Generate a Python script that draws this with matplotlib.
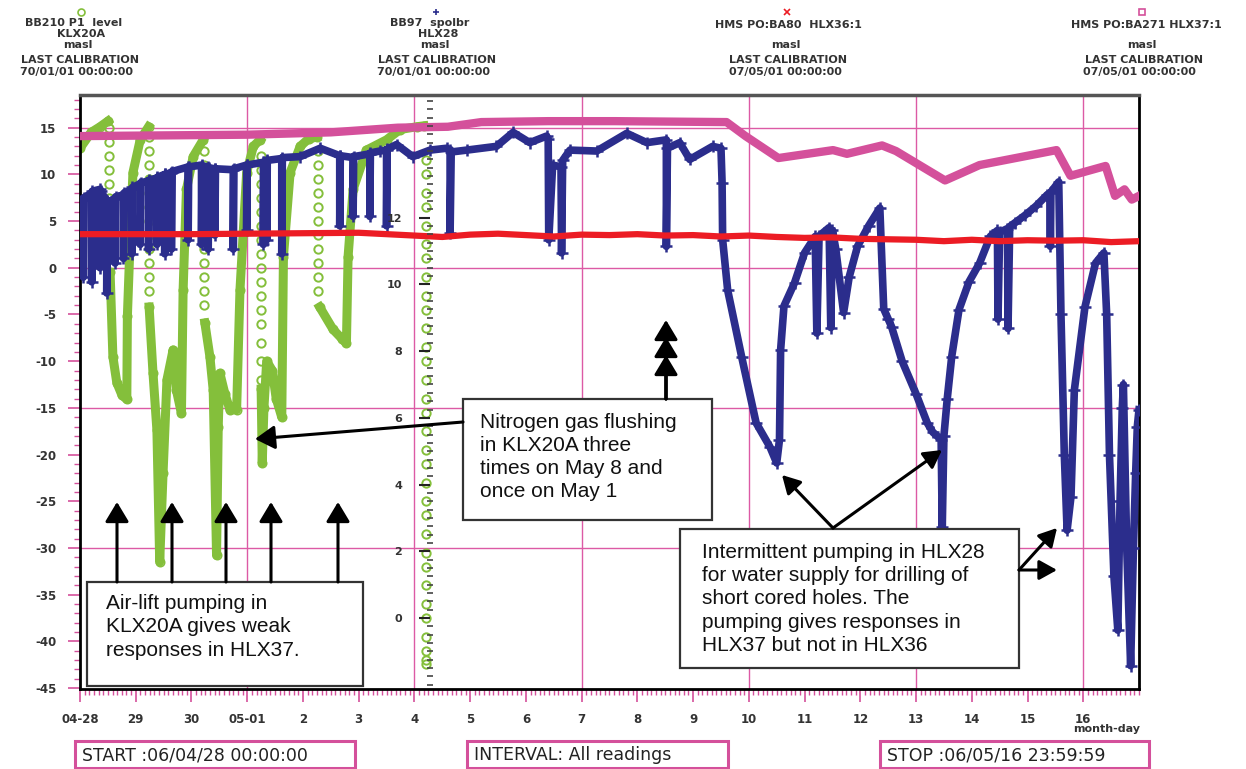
import matplotlib
matplotlib.use('Agg')
import matplotlib.pyplot as plt
import numpy as np
from matplotlib.lines import Line2D
from matplotlib.patches import Rectangle, FancyArrowPatch
from matplotlib.ticker import MultipleLocator

plt.rcParams['font.family'] = 'DejaVu Sans'
plt.rcParams['axes.unicode_minus'] = False

W, H = 1246, 769
GREEN = '#84bf3b'
BLUE = '#2b2d8c'
RED = '#ec1c24'
PINK = '#d4509b'
GRID = '#dc5aa5'
nan = np.nan

# ---- data (x = days since 04-28 00:00, y = masl) ----
x_labels = ['04-28', '29', '30', '05-01', '2', '3', '4', '5', '6', '7', '8',
            '9', '10', '11', '12', '13', '14', '15', '16']

# HLX37 (pink squares)
pink_day = [0.0, 3.0, 4.5, 5.7, 6.6, 7.2, 8.4, 9.6, 11.6, 11.94, 12.53, 13.51,
            13.76, 14.39, 14.64, 15.52, 16.14, 17.52, 17.77, 18.40, 18.57, 18.74,
            18.87, 19.0]
pink_lvl = [14.1, 14.25, 14.5, 15.0, 15.1, 15.6, 15.7, 15.7, 15.6, 14.1, 11.75, 12.6,
            12.2, 13.1, 12.5, 9.35, 11.0, 12.6, 9.85, 10.9, 7.7, 8.4,
            7.3, 7.7]

# HLX36 (red crosses)
red_day = [0, 1, 2, 3, 4, 5, 5.5, 6, 6.5, 7, 7.5, 8, 8.5, 9, 9.5, 10, 10.5, 11,
           11.5, 12, 12.5, 13, 13.5, 14, 14.5, 15, 15.5, 16, 16.5, 17, 17.5, 18,
           18.5, 19]
red_lvl = [3.6, 3.6, 3.6, 3.65, 3.7, 3.75, 3.6, 3.45, 3.3, 3.55, 3.65, 3.5, 3.35,
           3.55, 3.5, 3.6, 3.45, 3.5, 3.35, 3.45, 3.3, 3.2, 3.25, 3.1, 3.05, 3.0,
           2.85, 3.0, 2.85, 2.95, 2.9, 2.95, 2.75, 2.85]

# HLX28 (blue plus)
blue_day = [0.00,
            0.06, 0.06, 0.07, 0.21, 0.21, 0.22, 0.36, 0.36, 0.37,
            0.48, 0.48, 0.49, 0.63, 0.63, 0.64, 0.78, 0.78, 0.79,
            0.93, 0.93, 0.94, 1.08, 1.08, 1.09, 1.23, 1.23, 1.24,
            1.38, 1.38, 1.39, 1.52, 1.52, 1.53, 1.64, 1.64, 1.65,
            1.94, 1.94, 1.95, 2.18, 2.18, 2.19, 2.30, 2.30, 2.31,
            2.42, 2.42, 2.43, 2.75, 2.75, 2.76, 2.99, 2.99, 3.00,
            3.29, 3.29, 3.30, 3.35, 3.35, 3.36, 3.62, 3.62, 3.63,
            3.95, 4.31, 4.66, 4.66, 4.67, 4.90, 4.90, 4.91,
            5.20, 5.20, 5.21, 5.38, 5.50, 5.50, 5.51,
            5.68, 5.97, 6.28, 6.58, 6.64, 6.64, 6.66,
            6.94, 7.47, 7.77, 8.07, 8.37, 8.40, 8.41, 8.48,
            8.63, 8.64, 8.66, 8.79, 9.27, 9.81, 10.17, 10.52, 10.52, 10.54,
            10.76, 10.94, 11.35, 11.50, 11.52, 11.53, 11.62, 11.87, 12.13,
            12.38, 12.50, 12.55, 12.57, 12.63, 12.82, 13.00, 13.19,
            13.22, 13.26, 13.44, 13.47, 13.50, 13.56, 13.70, 13.80, 13.95,
            14.15, 14.35, 14.42, 14.50, 14.56, 14.75, 15.00, 15.20, 15.30,
            15.45, 15.47, 15.50, 15.56, 15.64, 15.77, 15.95, 16.14, 16.33,
            16.46, 16.47, 16.50, 16.64, 16.65, 16.68, 16.77, 16.95, 17.15,
            17.35, 17.40, 17.41, 17.42, 17.56, 17.60, 17.66, 17.71, 17.78,
            17.84, 18.03, 18.22, 18.37, 18.42, 18.47, 18.55, 18.62, 18.66,
            18.70, 18.72, 18.78, 18.85, 18.90, 18.94, 18.97, 19.0]
blue_lvl = [7.1,
            7.3, -1.0, 7.5, 8.0, -1.5, 8.2, 8.4, 0.0, 8.2,
            7.2, -2.7, 7.0, 7.4, 0.5, 7.6, 7.8, 1.0, 8.0,
            8.4, 1.5, 8.6, 9.0, 2.5, 9.1, 9.3, 2.0, 9.4,
            9.6, 2.5, 9.7, 10.0, 1.5, 10.0, 10.2, 2.0, 10.3,
            10.8, 3.0, 10.8, 11.0, 2.5, 10.9, 10.8, 2.0, 10.7,
            10.6, 3.5, 10.6, 10.5, 2.0, 10.6, 11.0, 4.0, 11.0,
            11.3, 2.5, 11.3, 11.4, 3.0, 11.5, 11.7, 1.5, 11.8,
            11.9, 12.8, 12.0, 4.5, 12.0, 11.8, 5.5, 11.9,
            12.2, 5.5, 12.3, 12.5, 12.6, 4.5, 12.7,
            13.2, 11.9, 12.6, 12.8, 12.6, 3.7, 12.4,
            12.6, 13.0, 14.5, 13.4, 14.1, 13.8, 3.0, 11.0,
            10.8, 1.6, 11.5, 12.6, 12.5, 14.4, 13.4, 13.7, 2.3, 12.8,
            13.4, 11.6, 13.0, 12.8, 9.1, 3.0, -2.4, -9.5, -16.6,
            -19.2, -20.9, -18.4, -8.8, -4.1, -1.6, 1.6, 3.35,
            -7.0, 3.4, 4.3, -6.4, 4.0, 2.0, -4.8, -1.0, 2.3,
            4.5, 6.4, -4.4, -5.5, -6.3, -10.0, -13.5, -16.6, -17.6,
            -18.4, -27.8, -18.0, -14.0, -9.5, -4.5, -1.5, 0.5, 3.35,
            4.0, -5.5, 3.8, 4.2, -6.5, 4.4, 4.8, 5.6, 6.6,
            7.8, 8.0, 2.3, 8.1, 9.2, -5.0, -20.0, -28.1, -24.5,
            -13.1, -4.2, 0.5, 1.6, -5.0, -20.0, -33.0, -38.8, -25.0,
            -15.0, -12.5, -30.0, -42.6, -30.0, -22.0, -17.0, -15.2]

# KLX20A (green circles), dense trace; nan = gap where readings are sparse
green_day = [0.0, 0.2, 0.36, 0.5, nan,
             0.54, 0.59, 0.66, 0.75, 0.84, 0.85, 0.90, 0.95, 1.08, 1.23, nan,
             1.24, 1.31, 1.38, 1.43, 1.49, 1.56, 1.67, 1.73, 1.82, 1.85, 1.91,
             2.03, 2.21, nan,
             2.24, 2.33, 2.39, 2.45, 2.48, 2.51, 2.60, 2.69, 2.81, 2.87, 2.99,
             3.11, 3.23, nan,
             3.25, 3.27, 3.30, 3.35, 3.45, 3.52, 3.62, 3.65, 3.77, 3.95, 4.10,
             4.25, nan,
             4.30, 4.54, 4.70, 4.78, 4.81, 4.90, 5.14, 5.50, 5.74, 6.04, 6.17]
green_lvl = [12.8, 14.5, 15.1, 15.7, nan,
             -0.5, -9.5, -12.3, -13.6, -14.1, -5.2, 3.0, 10.2, 13.7, 15.1, nan,
             -4.2, -11.3, -17.4, -31.5, -22.0, -12.0, -8.8, -13.1, -15.6, -2.4, 8.4,
             11.9, 13.7, nan,
             -5.9, -9.5, -13.1, -30.8, -17.0, -11.3, -13.5, -15.2, -15.2, -2.4, 10.2,
             13.0, 13.7, nan,
             -13.0, -20.9, -15.0, -10.0, -11.0, -14.0, -16.0, 1.2, 10.2, 13.0, 13.8,
             14.0, nan,
             -4.2, -6.6, -7.6, -8.1, 1.2, 8.4, 12.6, 13.7, 14.8, 15.1, 15.2]

# KLX20A sparse readings during fast drops
green_drop_day = [0.52, 1.245, 2.225, 3.245, 4.275, 6.21]
green_drop_lvls = [
    [15.0, 13.5, 12.0, 10.5, 9.0, 7.5, 6.0, 4.5, 3.0, 1.5],
    [14.0, 12.5, 11.0, 9.5, 8.0, 6.5, 5.0, 3.5, 2.0, 0.5, -1.0, -2.5],
    [12.5, 11.0, 9.5, 8.0, 6.5, 5.0, 3.5, 2.0, 0.5, -1.0, -2.5, -4.0],
    [12.0, 10.5, 9.0, 7.5, 6.0, 4.5, 3.0, 1.5, 0.0, -1.5, -3.0, -4.5, -6.0,
     -8.0, -10.0, -12.0],
    [12.5, 11.0, 9.5, 8.0, 6.5, 5.0, 3.5, 2.0, 0.5, -1.0, -2.5],
    [11.5, 10.0, 8.0, 6.5, 4.5, 2.5, 1.0, -1.0, -3.0, -4.5, -6.5, -8.5, -10.0,
     -12.0, -14.0, -15.5, -17.5, -19.5, -21.0, -23.0, -25.0, -26.5, -28.5,
     -30.5, -32.0, -34.0, -36.0, -37.5, -39.5, -41.0, -42.0, -42.4],
]

# header / footer texts
sensor_names = ['BB210 P1  level', 'BB97  spolbr', 'HMS PO:BA80  HLX36:1',
                'HMS PO:BA271 HLX37:1']
boreholes = ['KLX20A', 'HLX28', '', '']
calib_dates = ['70/01/01 00:00:00', '70/01/01 00:00:00', '07/05/01 00:00:00',
               '07/05/01 00:00:00']
legend_marks = ['o', '+', 'x', 's']
legend_colors = [GREEN, BLUE, RED, PINK]
footer_texts = ['START :06/04/28 00:00:00', 'INTERVAL: All readings',
                'STOP :06/05/16 23:59:59']
note_airlift = 'Air-lift pumping in\nKLX20A gives weak\nresponses in HLX37.'
note_nitrogen = 'Nitrogen gas flushing\nin KLX20A three\ntimes on May 8 and\nonce on May 1'
note_pumping = ('Intermittent pumping in HLX28\nfor water supply for drilling of\n'
                'short cored holes. The\npumping gives responses in\n'
                'HLX37 but not in HLX36')

# ---- figure ----
fig = plt.figure(figsize=(W / 100, H / 100), dpi=100)


def fp(x, y):
    return (x / W, 1 - y / H)


ax = fig.add_axes([80 / W, 1 - 689 / H, 1059 / W, 594 / H])
ax.set_xlim(0, 19)
ax.set_ylim(-45.1, 18.5)

for d in np.arange(3, 19, 3):
    ax.axvline(d, color=GRID, lw=1, zorder=1)
for v in np.arange(-30, 16, 15):
    ax.axhline(v, color=GRID, lw=1, zorder=1)

ax.plot(green_day, green_lvl, color=GREEN, lw=6.5, marker='o', ms=6, mfc='none',
        mec=GREEN, mew=1.2, zorder=2)
for d, lv in zip(green_drop_day, green_drop_lvls):
    ax.plot([d] * len(lv), lv, ls='none', marker='o', ms=6, mfc='none',
            mec=GREEN, mew=1.4, zorder=2)
ax.plot(blue_day, blue_lvl, color=BLUE, lw=5.5, marker='+', ms=9, mew=1.8, zorder=3)
ax.plot(pink_day, pink_lvl, color=PINK, lw=6, zorder=4)
ax.plot(red_day, red_lvl, color=RED, lw=4.5, zorder=5)

for s in ['left', 'bottom', 'right']:
    ax.spines[s].set_color('black')
    ax.spines[s].set_linewidth(2)
ax.spines['top'].set_color('#555555')
ax.spines['top'].set_linewidth(2.5)

ax.set_xticks(range(19), labels=x_labels)
ax.xaxis.set_minor_locator(MultipleLocator(1 / 12))
ax.set_yticks(np.arange(-45, 16, 5))
ax.yaxis.set_minor_locator(MultipleLocator(1))
ax.tick_params(which='major', length=9, width=1.2, color=PINK, pad=8,
               labelsize=8.5)
ax.tick_params(which='minor', length=4, width=1, color=PINK)
for lab in ax.get_xticklabels() + ax.get_yticklabels():
    lab.set_fontweight('bold')
    lab.set_color('#333333')

# inner scale
ax2 = ax.twinx()
ax2.set_ylim(-2.13, 15.68)
for s in ax2.spines.values():
    s.set_visible(False)
ax2.yaxis.tick_left()
ax2.spines['left'].set_position(('data', 6.28))
ax2.set_yticks(range(0, 13, 2))
ax2.yaxis.set_minor_locator(MultipleLocator(0.25))
ax2.tick_params(axis='y', which='major', length=8, width=1.5, color='#222222',
                direction='out', pad=12, labelsize=8)
ax2.tick_params(axis='y', which='minor', length=5, width=1.2, color='#444444',
                direction='inout')
for lab in ax2.get_yticklabels():
    lab.set_fontweight('bold')
    lab.set_color('#333333')

# header
hdr = dict(fontsize=8, fontweight='bold', color='#333333', ha='center',
           va='center')
name_x = [74, 430, 788, 1146]
name_y = [23, 23, 25, 25]
hole_x = [81, 438]
masl_x = [78, 435, 786, 1142]
masl_y = [45, 45, 45, 45]
cal_x = [80, 437, 788, 1144]
date_x = [77, 433, 785, 1139]
mark_x = [81, 436, 787, 1142]
for i in range(4):
    fig.add_artist(Line2D([mark_x[i] / W], [1 - 11.5 / H], transform=fig.transFigure,
                          marker=legend_marks[i], ms=5, mfc='none',
                          mec=legend_colors[i], mew=1.2, ls='none'))
    fig.text(*fp(name_x[i], name_y[i]), sensor_names[i], **hdr)
    if boreholes[i]:
        fig.text(*fp(hole_x[i], 34), boreholes[i], **hdr)
    fig.text(*fp(masl_x[i], masl_y[i]), 'masl', **hdr)
    fig.text(*fp(cal_x[i], 60), 'LAST CALIBRATION', **hdr)
    fig.text(*fp(date_x[i], 72), calib_dates[i], **hdr)

fig.text(*fp(1107, 729), 'month-day', **hdr)

# footer boxes
foot_x0 = [75, 467, 880]
foot_x1 = [355, 728, 1149]
for x0, x1, t in zip(foot_x0, foot_x1, footer_texts):
    fig.add_artist(Rectangle(fp(x0, 768), (x1 - x0) / W, 27 / H,
                             transform=fig.transFigure, fill=False, ec=PINK,
                             lw=2.2))
    fig.text(*fp(x0 + 7, 755), t, fontsize=12.5, color='#222222', ha='left',
             va='center')

# annotation boxes
note_font = dict(family='Liberation Sans', fontsize=15, color='#111111',
                 ha='left', va='center', linespacing=1.27, zorder=6)
boxes = [(87, 582, 363, 686), (463, 399, 712, 520), (680, 529, 1019, 668)]
for x0, y0, x1, y1 in boxes:
    fig.add_artist(Rectangle(fp(x0, y1), (x1 - x0) / W, (y1 - y0) / H,
                             transform=fig.transFigure, fc='white',
                             ec='#333333', lw=1.6, zorder=5))
fig.text(*fp(106, 627), note_airlift, **note_font)
fig.text(*fp(480, 457), note_nitrogen, **note_font)
fig.text(*fp(702, 599), note_pumping, **note_font)


def arrow(x0, y0, x1, y1, hl=1.0, hw=0.6):
    fig.add_artist(FancyArrowPatch(fp(x0, y0), fp(x1, y1), transform=fig.transFigure,
                                   arrowstyle=f'-|>,head_length={hl},head_width={hw}',
                                   mutation_scale=12, lw=2.2, color='black',
                                   shrinkA=0, shrinkB=0, zorder=7))


for x in [117, 172, 226, 271, 338]:
    arrow(x, 582, x, 502)
arrow(463, 422, 255, 439)
for y in [320, 337, 355]:
    arrow(666, 399, 666, y)
arrow(833, 528, 782, 475, 0.9, 0.5)
arrow(833, 528, 942, 450, 0.9, 0.5)
arrow(1019, 570, 1057, 528, 0.9, 0.5)
arrow(1019, 570, 1057, 570, 0.9, 0.5)

fig.savefig('out.png', dpi=100)
